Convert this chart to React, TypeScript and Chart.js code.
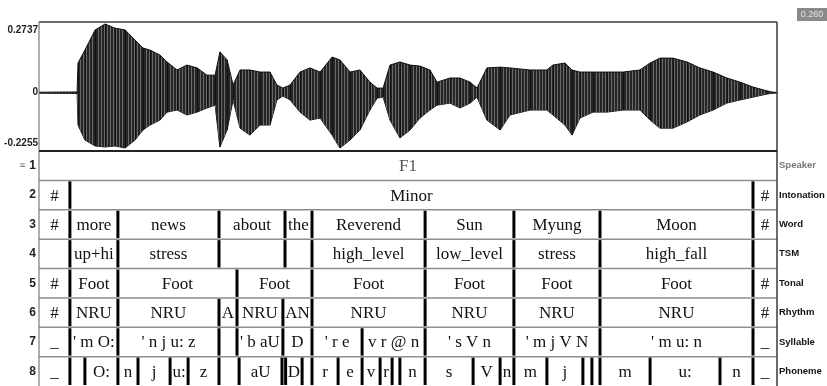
import React, { useEffect, useRef } from 'react';
import { Chart, registerables } from 'chart.js';

Chart.register(...registerables);

// ---- time axis (seconds) ----
const T_MIN = 0;
const T_MAX = 2.46;

// ---- waveform axis ----
const WAVE_TOP = 0.2737;
const WAVE_BOTTOM = -0.2255;
const WAVE_TICKS = ['0.2737', '0', '-0.2255'];
const WAVE_TICK_VALUES = [0.2737, 0, -0.2255];

// ---- waveform envelope ----
const WAVE_T = [0, 0.127, 0.13, 0.153, 0.187, 0.22, 0.253, 0.287, 0.32, 0.347, 0.37, 0.403, 0.427, 0.46, 0.493, 0.527, 0.56, 0.587, 0.603, 0.627, 0.647, 0.67, 0.703, 0.737, 0.77, 0.793, 0.813, 0.837, 0.87, 0.903, 0.937, 0.977, 1.003, 1.037, 1.07, 1.103, 1.127, 1.147, 1.17, 1.203, 1.237, 1.27, 1.303, 1.327, 1.37, 1.403, 1.437, 1.46, 1.493, 1.537, 1.57, 1.637, 1.693, 1.713, 1.753, 1.777, 1.803, 1.847, 1.893, 1.947, 2.003, 2.037, 2.07, 2.113, 2.16, 2.203, 2.247, 2.293, 2.337, 2.38, 2.427, 2.447, 2.46];
const WAVE_HI = [0.002, 0.003, 0.115, 0.165, 0.243, 0.266, 0.25, 0.243, 0.204, 0.173, 0.165, 0.146, 0.119, 0.088, 0.107, 0.096, 0.068, 0.068, 0.158, 0.127, 0.03, 0.088, 0.088, 0.08, 0.08, 0.03, 0.018, 0.03, 0.08, 0.096, 0.08, 0.138, 0.127, 0.08, 0.088, 0.041, 0.018, 0.018, 0.107, 0.119, 0.107, 0.103, 0.088, 0.041, 0.057, 0.057, 0.041, 0.018, 0.096, 0.099, 0.096, 0.088, 0.088, 0.107, 0.115, 0.088, 0.08, 0.08, 0.08, 0.08, 0.088, 0.115, 0.134, 0.134, 0.119, 0.096, 0.08, 0.057, 0.041, 0.022, 0.007, 0.002, 0.001];
const WAVE_LO = [-0.002, -0.003, -0.125, -0.183, -0.206, -0.21, -0.206, -0.214, -0.183, -0.144, -0.125, -0.106, -0.075, -0.067, -0.086, -0.075, -0.059, -0.048, -0.21, -0.144, -0.028, -0.137, -0.164, -0.125, -0.125, -0.028, -0.013, -0.028, -0.075, -0.106, -0.098, -0.164, -0.214, -0.183, -0.144, -0.067, -0.021, -0.017, -0.106, -0.175, -0.144, -0.098, -0.067, -0.048, -0.04, -0.059, -0.04, -0.017, -0.106, -0.144, -0.086, -0.067, -0.067, -0.086, -0.125, -0.164, -0.098, -0.075, -0.075, -0.067, -0.067, -0.106, -0.137, -0.137, -0.113, -0.086, -0.067, -0.04, -0.028, -0.017, -0.005, -0.002, -0.001];

// ---- annotation tiers ----
const TIER_NAMES = ['Speaker', 'Intonation', 'Word', 'TSM', 'Tonal', 'Rhythm', 'Syllable', 'Phoneme'];

const SPEAKER_BOUNDS: number[] = [];
const SPEAKER_LABELS = ['F1'];

const INTONATION_BOUNDS = [0.103, 2.38];
const INTONATION_LABELS = ['#', 'Minor', '#'];

const WORD_BOUNDS = [0.103, 0.263, 0.6, 0.82, 0.91, 1.287, 1.583, 1.87, 2.38];
const WORD_LABELS = ['#', 'more', 'news', 'about', 'the', 'Reverend', 'Sun', 'Myung', 'Moon', '#'];

const TSM_BOUNDS = [0.103, 0.263, 0.6, 0.82, 0.91, 1.287, 1.583, 1.87, 2.38];
const TSM_LABELS = ['', 'up+hi', 'stress', '', '', 'high_level', 'low_level', 'stress', 'high_fall', ''];

const TONAL_BOUNDS = [0.103, 0.263, 0.66, 0.91, 1.287, 1.583, 1.87, 2.38];
const TONAL_LABELS = ['#', 'Foot', 'Foot', 'Foot', 'Foot', 'Foot', 'Foot', 'Foot', '#'];

const RHYTHM_BOUNDS = [0.103, 0.263, 0.6, 0.66, 0.813, 0.91, 1.287, 1.583, 1.87, 2.38];
const RHYTHM_LABELS = ['#', 'NRU', 'NRU', 'A', 'NRU', 'AN', 'NRU', 'NRU', 'NRU', 'NRU', '#'];

const SYLLABLE_BOUNDS = [0.103, 0.263, 0.6, 0.66, 0.813, 0.91, 1.077, 1.287, 1.583, 1.87, 2.38];
const SYLLABLE_LABELS = ['_', "' m O:", "' n j u: z", '', "' b aU", 'D', "' r e", 'v r @ n', "' s V n", "' m j V N", "' m u: n", '_'];

const PHONEME_BOUNDS = [0.103, 0.153, 0.263, 0.33, 0.437, 0.497, 0.6, 0.667, 0.81, 0.822, 0.877, 0.91, 0.997, 1.077, 1.137, 1.177, 1.203, 1.287, 1.447, 1.537, 1.583, 1.693, 1.813, 1.843, 1.87, 2.037, 2.27, 2.38];
const PHONEME_LABELS = ['_', '', 'O:', 'n', 'j', 'u:', 'z', '', 'aU', '', 'D', '', 'r', 'e', 'v', 'r', '', 'n', 's', 'V', 'n', 'm', 'j', '', '', 'm', 'u:', 'n', '_'];

const DURATION_LABEL = '0.260';

const TIER_BOUNDS = [SPEAKER_BOUNDS, INTONATION_BOUNDS, WORD_BOUNDS, TSM_BOUNDS, TONAL_BOUNDS, RHYTHM_BOUNDS, SYLLABLE_BOUNDS, PHONEME_BOUNDS];
const TIER_LABELS = [SPEAKER_LABELS, INTONATION_LABELS, WORD_LABELS, TSM_LABELS, TONAL_LABELS, RHYTHM_LABELS, SYLLABLE_LABELS, PHONEME_LABELS];

const SERIF = '"Liberation Serif", "Times New Roman", serif';
const SANS = '"Liberation Sans", Arial, sans-serif';

function stripePattern(): CanvasPattern | string {
  const c = document.createElement('canvas');
  c.width = 3;
  c.height = 4;
  const g = c.getContext('2d');
  if (!g) return '#3c3c3c';
  g.fillStyle = '#262626';
  g.fillRect(0, 0, 3, 4);
  g.fillStyle = '#6a6a6a';
  g.fillRect(2, 0, 1, 4);
  return g.createPattern(c, 'repeat') || '#3c3c3c';
}

const praatPlugin = {
  id: 'praat',
  afterDatasetsDraw(chart: any) {
    const ctx = chart.ctx as CanvasRenderingContext2D;
    const xs = chart.scales.x;
    const yw = chart.scales.yw;
    const yt = chart.scales.yt;
    const L = xs.getPixelForValue(T_MIN);
    const R = xs.getPixelForValue(T_MAX);
    const wTop = yw.getPixelForValue(WAVE_TOP);
    const wBot = yw.getPixelForValue(WAVE_BOTTOM);
    ctx.save();

    // vertical strokes of the waveform at each sampled point
    ctx.strokeStyle = '#111';
    ctx.lineWidth = 1;
    WAVE_T.forEach((t, i) => {
      const x = Math.round(xs.getPixelForValue(t)) + 0.5;
      ctx.beginPath();
      ctx.moveTo(x, yw.getPixelForValue(WAVE_HI[i]));
      ctx.lineTo(x, yw.getPixelForValue(WAVE_LO[i]));
      ctx.stroke();
    });

    // waveform box
    ctx.strokeStyle = '#6e6e6e';
    ctx.lineWidth = 2;
    ctx.beginPath();
    ctx.moveTo(L, wTop);
    ctx.lineTo(R, wTop);
    ctx.stroke();

    // tier rows: separators
    const nT = TIER_NAMES.length;
    ctx.strokeStyle = '#8e8e8e';
    ctx.lineWidth = 1.5;
    for (let i = 1; i < nT; i++) {
      const y = yt.getPixelForValue(i);
      ctx.beginPath();
      ctx.moveTo(L, y);
      ctx.lineTo(R, y);
      ctx.stroke();
    }
    // left/right frame
    ctx.strokeStyle = '#7a7a7a';
    ctx.lineWidth = 1.2;
    ctx.beginPath();
    ctx.moveTo(L, wTop);
    ctx.lineTo(L, yt.getPixelForValue(nT));
    ctx.stroke();
    ctx.strokeStyle = '#3a3a3a';
    ctx.lineWidth = 1.5;
    ctx.beginPath();
    ctx.moveTo(R, wTop);
    ctx.lineTo(R, yt.getPixelForValue(nT));
    ctx.stroke();
    // waveform bottom / tier top line
    ctx.strokeStyle = '#222';
    ctx.lineWidth = 2;
    ctx.beginPath();
    ctx.moveTo(L, wBot);
    ctx.lineTo(R, wBot);
    ctx.stroke();

    // waveform ticks
    ctx.fillStyle = '#222';
    ctx.font = `bold 10px ${SANS}`;
    ctx.textAlign = 'right';
    WAVE_TICKS.forEach((lab, i) => {
      const v = WAVE_TICK_VALUES[i];
      const y = yw.getPixelForValue(v);
      ctx.textBaseline = i === 0 ? 'top' : i === WAVE_TICKS.length - 1 ? 'bottom' : 'middle';
      ctx.fillText(lab, L - 1, i === 0 ? y + 3 : i === WAVE_TICKS.length - 1 ? y - 3 : y);
    });

    // tiers
    for (let i = 0; i < nT; i++) {
      const top = yt.getPixelForValue(i);
      const bot = yt.getPixelForValue(i + 1);
      const mid = (top + bot) / 2;
      const bounds = TIER_BOUNDS[i];
      const labels = TIER_LABELS[i];
      const edges = [T_MIN, ...bounds, T_MAX];

      ctx.strokeStyle = '#000';
      ctx.lineWidth = 3;
      bounds.forEach((b) => {
        const x = xs.getPixelForValue(b);
        ctx.beginPath();
        ctx.moveTo(x, top + 1);
        ctx.lineTo(x, bot - 1);
        ctx.stroke();
      });

      ctx.font = `17px ${SERIF}`;
      ctx.textAlign = 'center';
      ctx.textBaseline = 'middle';
      ctx.fillStyle = i === 0 ? '#555' : '#111';
      labels.forEach((lab, j) => {
        if (!lab) return;
        const x0 = xs.getPixelForValue(edges[j]);
        const x1 = xs.getPixelForValue(edges[j + 1]);
        ctx.fillText(lab, (x0 + x1) / 2, mid + 1);
      });

      // tier number
      ctx.font = `bold 12px ${SANS}`;
      ctx.textAlign = 'right';
      ctx.fillStyle = '#222';
      ctx.fillText(String(i + 1), L - 3, mid);
      if (i === 0) {
        ctx.font = `9px ${SANS}`;
        ctx.fillStyle = '#555';
        ctx.fillText('\u2261', L - 14, mid);
      }

      // tier name
      ctx.font = `bold 9.5px ${SANS}`;
      ctx.textAlign = 'left';
      ctx.fillStyle = i === 0 ? '#777' : '#111';
      ctx.fillText(TIER_NAMES[i], R + 2, mid);
    }

    // duration box (top right)
    ctx.fillStyle = '#8a8a8a';
    ctx.fillRect(R + 20, 8, 30, 13);
    ctx.fillStyle = '#e4e4e4';
    ctx.font = `9px ${SANS}`;
    ctx.textAlign = 'center';
    ctx.textBaseline = 'middle';
    ctx.fillText(DURATION_LABEL, R + 35, 14.5);

    ctx.restore();
  },
};

export default function App() {
  const ref = useRef<HTMLCanvasElement>(null);
  useEffect(() => {
    document.body.style.margin = '0';
    const fillStyle = stripePattern();
    const hi = WAVE_T.map((t, i) => ({ x: t, y: WAVE_HI[i] }));
    const lo = WAVE_T.map((t, i) => ({ x: t, y: WAVE_LO[i] }));
    const chart = new Chart(ref.current as HTMLCanvasElement, {
      type: 'line',
      data: {
        datasets: [
          {
            data: hi,
            yAxisID: 'yw',
            borderColor: '#111',
            borderWidth: 1,
            backgroundColor: fillStyle,
            fill: '+1',
            pointRadius: 0,
            tension: 0,
          },
          {
            data: lo,
            yAxisID: 'yw',
            borderColor: '#111',
            borderWidth: 1,
            backgroundColor: fillStyle,
            fill: false,
            pointRadius: 0,
            tension: 0,
          },
        ],
      },
      options: {
        animation: false,
        responsive: false,
        devicePixelRatio: 1,
        layout: { padding: { left: 39, right: 50, top: 22, bottom: 0 } },
        plugins: { legend: { display: false }, tooltip: { enabled: false } },
        scales: {
          x: { type: 'linear', min: T_MIN, max: T_MAX, display: false },
          yw: {
            type: 'linear',
            position: 'left',
            min: WAVE_BOTTOM,
            max: WAVE_TOP,
            display: false,
            stack: 'praat',
            stackWeight: 129,
            weight: 2,
          },
          yt: {
            type: 'linear',
            position: 'left',
            min: 0,
            max: TIER_NAMES.length,
            reverse: true,
            display: false,
            stack: 'praat',
            stackWeight: 235,
            weight: 1,
          },
        },
      } as any,
      plugins: [praatPlugin],
    });
    return () => chart.destroy();
  }, []);
  return (
    <div style={{ width: 827, height: 386, background: '#fff' }}>
      <canvas ref={ref} width={827} height={386} style={{ display: 'block' }} />
    </div>
  );
}
